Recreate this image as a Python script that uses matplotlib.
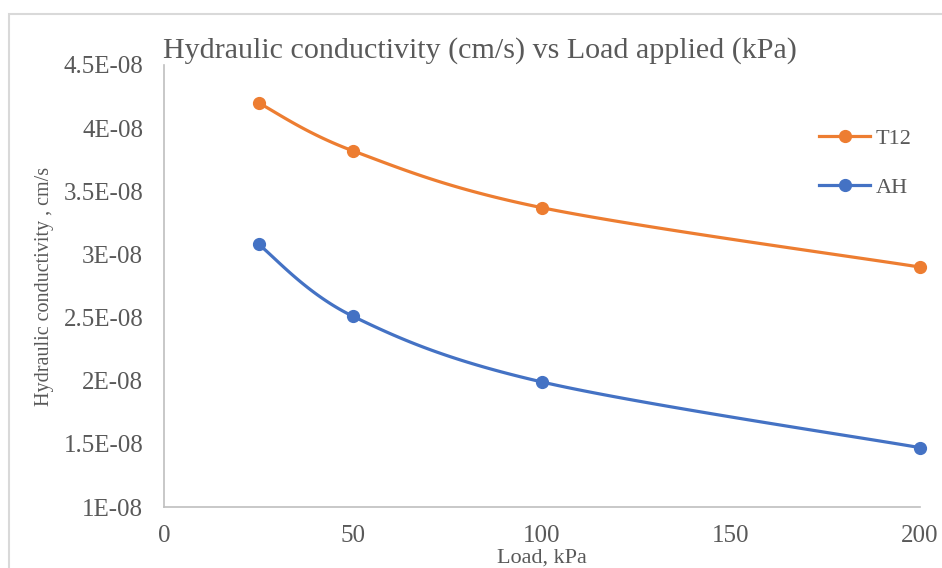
import numpy as np
import matplotlib.pyplot as plt
from matplotlib.patches import Rectangle

load_kpa = [25, 50, 100, 200]
k_t12 = [4.20e-8, 3.82e-8, 3.37e-8, 2.90e-8]
k_ah = [3.08e-8, 2.51e-8, 1.99e-8, 1.47e-8]
series_names = ['T12', 'AH']
series_colors = ['#ED7D31', '#4472C4']

x_lim = (0, 200)
y_lim = (1e-8, 4.5e-8)
x_ticks = [0, 50, 100, 150, 200]
y_ticks = [1e-8, 1.5e-8, 2e-8, 2.5e-8, 3e-8, 3.5e-8, 4e-8, 4.5e-8]
y_tick_labels = ['1E-08', '1.5E-08', '2E-08', '2.5E-08', '3E-08',
                 '3.5E-08', '4E-08', '4.5E-08']

text_gray = '#595959'
axis_gray = '#BFBFBF'

plt.rcParams['font.family'] = ['Liberation Serif', 'DejaVu Serif']

fig = plt.figure(figsize=(9.42, 5.68), dpi=100)
ax = fig.add_axes([164 / 942, 1 - 507 / 568, (920 - 164) / 942, (507 - 65) / 568])

# chart area outline
fig.patches.append(Rectangle((9 / 942, -0.1), 1.2, 1 - 14 / 568 + 0.1,
                             transform=fig.transFigure, fill=False,
                             edgecolor='#D9D9D9', linewidth=1.5))

ax_w = (920 - 164)
ax_h = (507 - 65)


def smooth(xs, ys, n=40):
    # Catmull-Rom style bezier smoothing done in screen-like units
    px = (np.asarray(xs, float) - x_lim[0]) / (x_lim[1] - x_lim[0]) * ax_w
    py = (np.asarray(ys, float) - y_lim[0]) / (y_lim[1] - y_lim[0]) * ax_h
    pts = np.column_stack([px, py])
    out = [pts[0]]
    for i in range(len(pts) - 1):
        p0 = pts[i - 1] if i > 0 else pts[i]
        p1 = pts[i]
        p2 = pts[i + 1]
        p3 = pts[i + 2] if i + 2 < len(pts) else pts[i + 1]
        c1 = p1 + (p2 - p0) / 6
        c2 = p2 - (p3 - p1) / 6
        t = np.linspace(0, 1, n)[1:, None]
        seg = ((1 - t) ** 3 * p1 + 3 * (1 - t) ** 2 * t * c1
               + 3 * (1 - t) * t ** 2 * c2 + t ** 3 * p2)
        out.extend(seg)
    out = np.array(out)
    sx = out[:, 0] / ax_w * (x_lim[1] - x_lim[0]) + x_lim[0]
    sy = out[:, 1] / ax_h * (y_lim[1] - y_lim[0]) + y_lim[0]
    return sx, sy


for vals, name, color in zip([k_t12, k_ah], series_names, series_colors):
    sx, sy = smooth(load_kpa, vals)
    ax.plot(sx, sy, color=color, linewidth=2.3, solid_capstyle='round',
            clip_on=False)
    ax.plot(load_kpa, vals, 'o', color=color, markersize=8.5, clip_on=False)
    ax.plot([], [], '-o', color=color, linewidth=2.3, markersize=8.5, label=name)

ax.set_xlim(*x_lim)
ax.set_ylim(*y_lim)
ax.set_xticks(x_ticks)
ax.set_xticklabels([str(t) for t in x_ticks])
ax.set_yticks(y_ticks)
ax.set_yticklabels(y_tick_labels)
ax.tick_params(length=0, labelsize=18, labelcolor=text_gray)
ax.tick_params(axis='x', pad=13)
ax.tick_params(axis='y', pad=15)

for side in ['top', 'right']:
    ax.spines[side].set_visible(False)
for side in ['left', 'bottom']:
    ax.spines[side].set_color(axis_gray)
    ax.spines[side].set_linewidth(1.2)

fig.text(163 / 942, 1 - 51 / 568, 'Hydraulic conductivity (cm/s) vs Load applied (kPa)',
         fontsize=21.6, color=text_gray, ha='left', va='center')
fig.text(542 / 942, 1 - 558 / 568, 'Load, kPa', fontsize=16, color=text_gray,
         ha='center', va='center')
fig.text(45 / 942, 1 - 286 / 568, 'Hydraulic conductivity , cm/s', fontsize=14.5,
         color=text_gray, rotation=90, ha='center', va='center')

leg = ax.legend(loc='upper left', bbox_to_anchor=(808 / 942, 1 - 117 / 568),
                bbox_transform=fig.transFigure, frameon=False, fontsize=16,
                labelcolor=text_gray, handlelength=2.3, handletextpad=0.25,
                labelspacing=1.3, borderpad=0)

fig.savefig('out.png', dpi=100)
